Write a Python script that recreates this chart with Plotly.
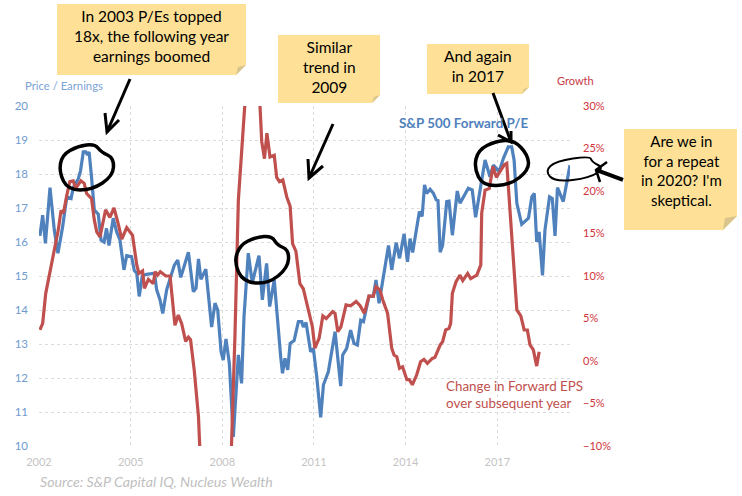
import plotly.graph_objects as go

# (year, forward P/E)
pe = [(2002.03,16.18),(2002.12,16.79),(2002.21,15.96),(2002.36,17.6),(2002.50,16.35),(2002.62,15.67),(2002.77,16.43),
      (2002.91,17.33),(2003.05,17.28),(2003.12,17.6),(2003.29,17.87),(2003.36,18.1),(2003.45,18.65),(2003.53,18.65),
      (2003.59,18.56),(2003.64,18.65),(2003.72,17.9),(2003.81,16.94),(2003.94,16.82),(2004.03,16.06),(2004.13,16.0),
      (2004.21,16.4),(2004.29,15.9),(2004.43,16.7),(2004.54,16.3),(2004.65,16.06),(2004.78,15.18),(2004.87,15.6),
      (2005.03,15.57),(2005.12,15.16),(2005.20,15.08),(2005.28,14.4),(2005.38,15.0),(2005.52,15.05),(2005.78,15.08),
      (2005.85,14.6),(2005.96,14.3),(2006.05,13.9),(2006.18,14.6),(2006.29,14.9),(2006.43,15.32),(2006.54,15.47),
      (2006.64,14.96),(2006.89,15.7),(2007.05,14.54),(2007.14,14.64),(2007.22,15.5),(2007.30,14.9),(2007.46,15.2),
      (2007.65,13.5),(2007.76,14.2),(2007.85,14.0),(2007.96,12.77),(2008.03,12.53),(2008.12,13.15),(2008.23,12.43),
      (2008.36,10.27),(2008.525,12.68),(2008.63,11.84),(2008.71,13.8),(2008.85,15.67),(2008.98,14.8),(2009.20,15.6),
      (2009.31,14.3),(2009.45,15.37),(2009.55,14.1),(2009.70,14.88),(2009.91,12.63),(2009.97,12.14),(2010.05,12.58),
      (2010.14,12.24),(2010.22,13.02),(2010.35,13.1),(2010.49,13.66),(2010.60,13.66),(2010.65,13.5),(2010.74,13.63),
      (2010.89,12.77),(2010.98,12.87),(2011.09,12.04),(2011.22,10.84),(2011.31,11.8),(2011.47,12.18),(2011.69,13.36),
      (2011.875,11.76),(2011.94,12.68),(2012.07,12.87),(2012.20,13.41),(2012.31,13.02),(2012.42,12.97),(2012.53,13.7),
      (2012.62,13.66),(2012.80,14.4),(2012.94,14.4),(2013.03,14.88),(2013.13,14.2),(2013.27,15.03),(2013.44,15.9),
      (2013.545,15.18),(2013.69,15.98),(2013.80,15.52),(2013.95,16.24),(2014.06,15.42),(2014.145,16.1),(2014.23,15.69),
      (2014.45,16.9),(2014.54,16.75),(2014.62,17.68),(2014.69,17.43),(2014.80,17.55),(2014.91,17.43),(2015.0,17.24),
      (2015.06,17.22),(2015.13,15.7),(2015.21,15.9),(2015.345,17.19),(2015.42,17.2),(2015.53,16.2),(2015.69,17.5),
      (2015.78,17.14),(2016.05,17.58),(2016.18,17.53),(2016.29,16.73),(2016.44,17.53),(2016.60,18.41),(2016.76,17.92),
      (2016.87,18.26),(2017.06,18.07),(2017.20,18.46),(2017.36,18.8),(2017.47,18.8),(2017.55,18.41),(2017.64,17.14),
      (2017.80,16.52),(2018.02,16.7),(2018.13,17.33),(2018.21,17.43),(2018.29,16.0),(2018.37,16.3),(2018.48,15.02),
      (2018.56,16.35),(2018.71,17.33),(2018.80,17.28),(2018.89,16.18),(2018.97,17.6),(2019.16,17.19),(2019.38,18.26)]

# (year, change in forward EPS over subsequent year, %), runs off the axis in 2007-08 and 2008-09
eps = [(2002.03,3.65),(2002.12,4.43),(2002.22,7.96),(2002.47,12.47),(2002.63,15.4),(2002.72,17.7),(2002.80,17.4),
       (2002.91,19.5),(2003.01,21.1),(2003.12,21.2),(2003.20,20.3),(2003.37,21.2),(2003.48,20.9),(2003.56,19.7),
       (2003.72,19.1),(2003.81,16.6),(2003.89,15.2),(2003.997,14.6),(2004.18,17.8),(2004.32,16.9),(2004.455,18.0),
       (2004.575,16.4),(2004.71,14.35),(2004.87,15.7),(2005.06,14.8),(2005.20,11.3),(2005.27,10.3),(2005.39,10.6),
       (2005.45,8.55),(2005.58,9.6),(2005.74,9.1),(2005.80,10.5),(2005.88,10.1),(2005.97,10.5),(2006.15,10.0),
       (2006.29,10.0),(2006.36,7.2),(2006.45,4.2),(2006.56,5.4),(2006.67,4.4),(2006.80,2.3),(2006.89,2.8),(2006.96,2.5),
       (2007.08,-1.06),(2007.22,-6.55),(2007.26,-10),(2007.6,-25),(2008.0,-25),(2008.30,-10),(2008.416,3.25),
       (2008.525,18.9),(2008.69,29.9),(2008.96,42),(2009.235,29.9),(2009.29,25.8),(2009.38,23.8),(2009.46,26.8),
       (2009.56,24.0),(2009.70,24.2),(2009.78,21.6),(2009.87,21.1),(2009.98,21.3),(2010.11,19.3),(2010.22,18.2),
       (2010.30,13.8),(2010.41,12.9),(2010.54,9.1),(2010.65,8.5),(2010.82,6.0),(2010.95,4.0),(2011.03,1.5),(2011.17,2.7),
       (2011.29,5.3),(2011.40,5.0),(2011.61,5.8),(2011.69,5.6),(2011.78,3.45),(2011.88,4.0),(2012.05,6.6),(2012.20,6.5),
       (2012.38,7.0),(2012.51,6.5),(2012.65,5.6),(2012.80,7.65),(2012.94,7.6),(2013.03,8.75),(2013.16,8.35),(2013.25,7.2),
       (2013.41,5.6),(2013.545,1.5),(2013.62,0.7),(2013.71,0.5),(2013.80,-0.86),(2013.90,-0.67),(2014.04,-2.2),
       (2014.12,-2.2),(2014.22,-2.8),(2014.36,-1.65),(2014.49,-0.08),(2014.60,0.2),(2014.71,-0.27),(2014.875,0.3),
       (2014.96,0.43),(2015.13,1.88),(2015.21,2.27),(2015.31,3.65),(2015.42,3.84),(2015.475,4.43),(2015.53,7.96),
       (2015.65,9.33),(2015.78,10.1),(2015.87,9.45),(2016.03,10.3),(2016.13,9.7),(2016.33,10.1),(2016.46,11.3),
       (2016.49,17.4),(2016.60,20.1),(2016.74,20.3),(2016.86,22.9),(2016.97,21.6),(2017.09,22.3),(2017.23,23.1),
       (2017.31,23.25),(2017.36,20.5),(2017.47,15.4),(2017.58,7.96),(2017.64,6.0),(2017.77,5.3),(2017.88,3.65),
       (2017.985,3.65),(2018.07,1.9),(2018.18,1.3),(2018.29,-0.6),(2018.37,1.1)]

W, H = 742, 496
L, R, T, B = 39, 570, 106, 446
BLUE, RED = '#4f81bd', '#c0504d'
NOTE = '#fee196'
FOLD = '#d8c48c'
HAND = 'Lato'


def px(x, y):
    # page pixels to paper coordinates, for the notes pasted over the chart
    return (x - L) / (R - L), (B - y) / (B - T)


def path(points, close=False):
    out = []
    for i, (x, y) in enumerate(points):
        a, b = px(x, y)
        out.append(f"{'M' if i == 0 else 'L'}{a:.4f},{b:.4f}")
    return ' '.join(out) + (' Z' if close else '')


def loop(points):
    # closed curve through the midpoints, so the circles look drawn by hand
    mids = [((points[i][0] + points[(i + 1) % len(points)][0]) / 2,
             (points[i][1] + points[(i + 1) % len(points)][1]) / 2) for i in range(len(points))]
    a, b = px(*mids[-1])
    out = [f'M{a:.4f},{b:.4f}']
    for p, m in zip(points, mids):
        c, d = px(*p)
        a, b = px(*m)
        out.append(f'Q{c:.4f},{d:.4f} {a:.4f},{b:.4f}')
    return ' '.join(out)


def ink(points, width=3):
    return dict(type='path', xref='paper', yref='paper', path=path(points), line=dict(color='black', width=width))


def circle(points, width=3.5):
    return dict(type='path', xref='paper', yref='paper', path=loop(points), line=dict(color='black', width=width))


def note(x0, y0, x1, y1, fold=10):
    body = [(x0, y0), (x1, y0), (x1, y1 - fold), (x1 - fold, y1), (x0, y1)]
    corner = [(x1, y1 - fold), (x1 - fold, y1), (x1 - fold + 2, y1 - fold + 2)]
    return [dict(type='path', xref='paper', yref='paper', path=path(body, True), fillcolor=NOTE, line_width=0),
            dict(type='path', xref='paper', yref='paper', path=path(corner, True), fillcolor=FOLD, line_width=0)]


def label(x, y, text, size=11, color='black', family='Lato', anchor='center'):
    a, b = px(x, y)
    return dict(x=a, y=b, xref='paper', yref='paper', text=text, showarrow=False, xanchor=anchor, yanchor='middle',
                align=anchor, font=dict(size=size, color=color, family=family))


fig = go.Figure()
fig.add_trace(go.Scatter(x=[p[0] for p in pe], y=[p[1] for p in pe], mode='lines',
                         line=dict(color=BLUE, width=3.2), name='S&P 500 Forward P/E'))
fig.add_trace(go.Scatter(x=[p[0] for p in eps], y=[p[1] for p in eps], mode='lines', yaxis='y2',
                         line=dict(color=RED, width=3.2), name='Change in Forward EPS'))

shapes = note(57, 4, 246, 75) + note(278, 35, 380, 103, 8) + note(427, 44, 529, 94, 7) + note(624, 129, 737, 230, 14)

# hand drawn circles
shapes.append(circle([(59, 172), (62, 155), (78, 146), (95, 144), (101, 152), (114, 158), (113, 176), (92, 190), (68, 190)]))
shapes.append(circle([(234, 262), (240, 245), (256, 237), (272, 236), (277, 245), (289, 250), (288, 268), (268, 284), (243, 282)]))
shapes.append(circle([(474, 168), (478, 150), (496, 141), (514, 140), (528, 155), (529, 170), (510, 185), (483, 186)]))
shapes.append(circle([(545, 171), (556, 161), (590, 156), (592, 162), (604, 168), (590, 178), (555, 182)], 2))

# arrows
shapes.append(ink([(130, 79), (107, 132)], 3))
shapes.append(ink([(105, 113), (107, 132), (119, 120)], 3))
shapes.append(ink([(333, 124), (309, 178)], 3))
shapes.append(ink([(308, 159), (309, 178), (323, 166)], 3))
shapes.append(ink([(493, 93), (511, 142)], 3))
shapes.append(ink([(498, 135), (511, 142), (511, 131)], 3))
shapes.append(ink([(623, 180), (596, 170)], 4))
shapes.append(ink([(607, 162), (596, 170), (600, 182)], 2.5))

notes = [
    label(151, 36, 'In 2003 P/Es topped<br>18x, the following year<br>earnings boomed', 15.5, family=HAND),
    label(329, 67, 'Similar<br>trend in<br>2009', 15.5, family=HAND),
    label(478, 66, 'And again<br>in 2017', 15.5, family=HAND),
    label(681, 170, "Are we in<br>for a repeat<br>in 2020? I'm<br>skeptical.", 15, family=HAND),
    label(23, 85, 'Price / Earnings', 11.3, '#7ba3d6', anchor='left'),
    label(555, 80, 'Growth', 11, '#c8383f', anchor='left'),
    label(397, 123, '<b>S&P 500 Forward P/E</b>', 13.4, BLUE, anchor='left'),
    label(444, 394, 'Change in Forward EPS<br>over subsequent year', 13.4, RED, anchor='left'),
    label(38, 481, '<i>Source: S&P Capital IQ, Nucleus Wealth</i>', 14.2, '#bfbfbf', anchor='left'),
]

fig.update_layout(
    width=W, height=H, autosize=False, showlegend=False,
    paper_bgcolor='white', plot_bgcolor='white',
    margin=dict(l=L, r=W - R, t=T, b=H - B, pad=0),
    font=dict(family='Lato'),
    shapes=shapes, annotations=notes,
    xaxis=dict(range=[2002, 2019.38], tickvals=[2002, 2005, 2008, 2011, 2014, 2017], tickformat='d',
               showgrid=True, gridcolor='#dcdcdc', griddash='dot', gridwidth=1, zeroline=False, showline=False,
               ticklabelstandoff=8, tickfont=dict(size=11, color='#c4c4c4')),
    yaxis=dict(range=[10, 20], dtick=1, showgrid=True, gridcolor='#dcdcdc', griddash='dot', gridwidth=1,
               zeroline=False, showline=False, ticklabelstandoff=10, tickfont=dict(size=11.5, color='#6f9bd1')),
    yaxis2=dict(range=[-10, 30], dtick=5, overlaying='y', side='right', showgrid=False, zeroline=False, showline=False,
                ticksuffix='%', ticklabelstandoff=12, tickfont=dict(size=11, color='#d0343c')),
)

fig.write_html("out.html", config={'displayModeBar': False}, post_script="document.body.style.margin = '0';")
